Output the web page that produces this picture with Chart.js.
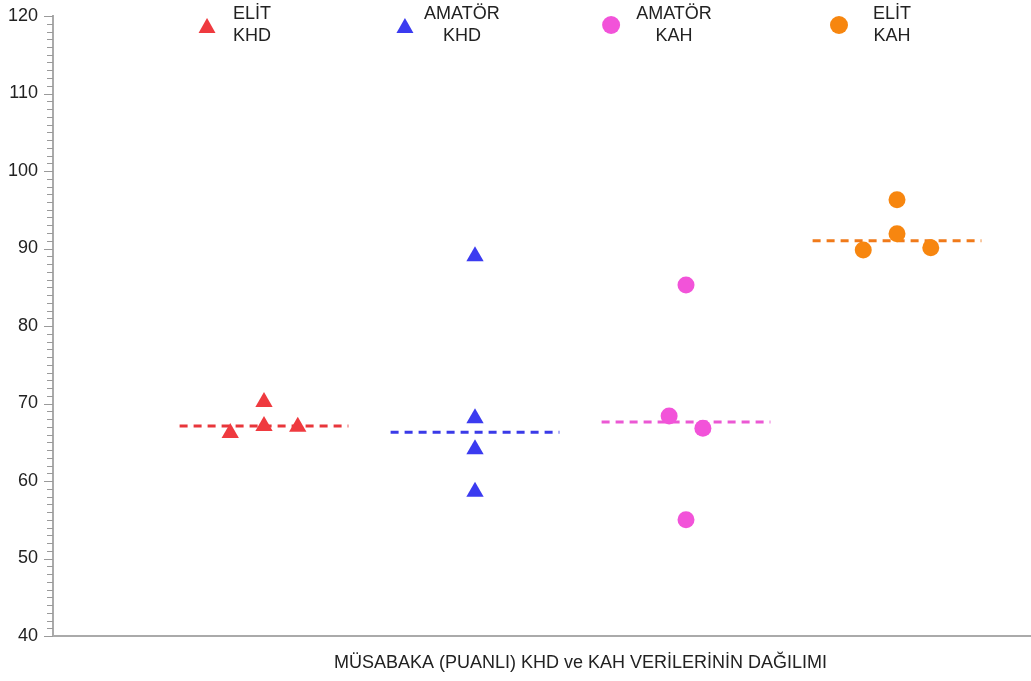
<!DOCTYPE html>
<html>
<head>
<meta charset="utf-8">
<script src="https://cdn.jsdelivr.net/npm/chart.js@4"></script>
<style>
  html, body { margin: 0; padding: 0; background: #fff; }
  #wrap { width: 1031px; height: 681px; }
</style>
</head>
<body>
<div id="wrap"><canvas id="grafico"></canvas></div>
<script>
// Datos
const grupos = ['ELİT\nKHD', 'AMATÖR\nKHD', 'AMATÖR\nKAH', 'ELİT\nKAH'];
const posGrupo = [1, 2, 3, 4];
const tituloX = 'MÜSABAKA (PUANLI) KHD ve KAH VERİLERİNİN DAĞILIMI';

const elitKhdX = [0.84, 1, 1, 1.16];
const elitKhdY = [66.2, 70.2, 67.1, 67.0];
const amatorKhdX = [2, 2, 2, 2];
const amatorKhdY = [89.0, 68.1, 64.1, 58.6];
const amatorKahX = [2.92, 3, 3.08, 3];
const amatorKahY = [68.4, 85.3, 66.8, 55.0];
const elitKahX = [3.84, 4, 4, 4.16];
const elitKahY = [89.8, 96.3, 91.9, 90.1];

const medias = [67.1, 66.3, 67.6, 91.0];

const colores = ['#EF3A3F', '#3B3BF0', '#F253D9', '#F7860F'];
const coloresLinea = ['#E8363B', '#3A3AE8', '#EB58D4', '#F07A1A'];
const formas = ['triangle', 'triangle', 'circle', 'circle'];

const puntosX = [elitKhdX, amatorKhdX, amatorKahX, elitKahX];
const puntosY = [elitKhdY, amatorKhdY, amatorKahY, elitKahY];

const datasets = [];
// líneas de media (debajo de los puntos)
medias.forEach((m, i) => {
  datasets.push({
    type: 'line',
    data: [{ x: posGrupo[i] - 0.4, y: m }, { x: posGrupo[i] + 0.4, y: m }],
    borderColor: coloresLinea[i],
    borderWidth: 3,
    borderDash: [8, 6],
    pointRadius: 0,
    fill: false,
    order: 2
  });
});
puntosY.forEach((ys, i) => {
  datasets.push({
    type: 'scatter',
    data: ys.map((y, j) => ({ x: puntosX[i][j], y: y })),
    backgroundColor: colores[i],
    borderColor: colores[i],
    borderWidth: 0,
    pointStyle: formas[i],
    pointRadius: formas[i] === 'triangle' ? 10 : 8.5,
    pointHoverRadius: formas[i] === 'triangle' ? 10 : 8.5,
    order: 1
  });
});

// Leyenda propia con textos de dos líneas + título del eje X
const leyenda = {
  id: 'leyenda',
  afterDraw(chart) {
    const c = chart.ctx;
    const xs = chart.scales.x;
    const textoX = [0.943, 1.938, 2.943, 3.976];
    const marcaX = [0.730, 1.668, 2.645, 3.725];
    c.save();
    c.font = '18px "Liberation Sans", Arial, sans-serif';
    c.textAlign = 'center';
    c.textBaseline = 'middle';
    grupos.forEach((g, i) => {
      const lineas = g.split('\n');
      const tx = xs.getPixelForValue(textoX[i]);
      c.fillStyle = '#222';
      c.fillText(lineas[0], tx, 14);
      c.fillText(lineas[1], tx, 36);
      const mx = xs.getPixelForValue(marcaX[i]);
      c.fillStyle = colores[i];
      c.beginPath();
      if (formas[i] === 'triangle') {
        c.moveTo(mx, 18);
        c.lineTo(mx + 8.5, 33);
        c.lineTo(mx - 8.5, 33);
        c.closePath();
      } else {
        c.arc(mx, 25, 9, 0, Math.PI * 2);
      }
      c.fill();
    });
    // título del eje X (algo desplazado a la derecha como en el original)
    c.fillStyle = '#222';
    c.fillText(tituloX, xs.getPixelForValue(2.5), chart.chartArea.bottom + 27);
    c.restore();
  }
};

// Marcas menores del eje Y
const marcasMenores = {
  id: 'marcasMenores',
  afterDraw(chart) {
    const c = chart.ctx;
    const ys = chart.scales.y;
    const x0 = chart.chartArea.left;
    c.save();
    c.strokeStyle = '#9a9a9a';
    c.lineWidth = 1;
    for (let v = 40; v <= 120; v++) {
      const py = Math.round(ys.getPixelForValue(v)) + 0.5;
      const len = v % 10 === 0 ? 9 : 6;
      c.beginPath();
      c.moveTo(x0 - len, py);
      c.lineTo(x0, py);
      c.stroke();
    }
    c.restore();
  }
};

const ctx = document.getElementById('grafico').getContext('2d');
new Chart(ctx, {
  data: { datasets: datasets },
  options: {
    responsive: true,
    maintainAspectRatio: false,
    animation: false,
    layout: { autoPadding: false, padding: { top: 16, right: 0, bottom: 45, left: 7 } },
    plugins: {
      legend: { display: false },
      tooltip: { enabled: false }
    },
    scales: {
      x: {
        type: 'linear',
        min: 0,
        max: 4.635,
        ticks: { display: false },
        grid: { display: false, drawTicks: false },
        border: { display: true, color: '#aaa', width: 2 },
        title: { display: false }
      },
      y: {
        min: 40,
        max: 120,
        afterFit(scale) {
          scale.width = 46;
          scale.paddingTop = 0;
          scale.paddingBottom = 0;
        },
        ticks: {
          stepSize: 10,
          color: '#222',
          padding: 15,
          font: { family: '"Liberation Sans", Arial, sans-serif', size: 18 }
        },
        grid: { display: false, drawTicks: false },
        border: { display: true, color: '#aaa', width: 2 }
      }
    }
  },
  plugins: [leyenda, marcasMenores]
});
</script>
</body>
</html>
